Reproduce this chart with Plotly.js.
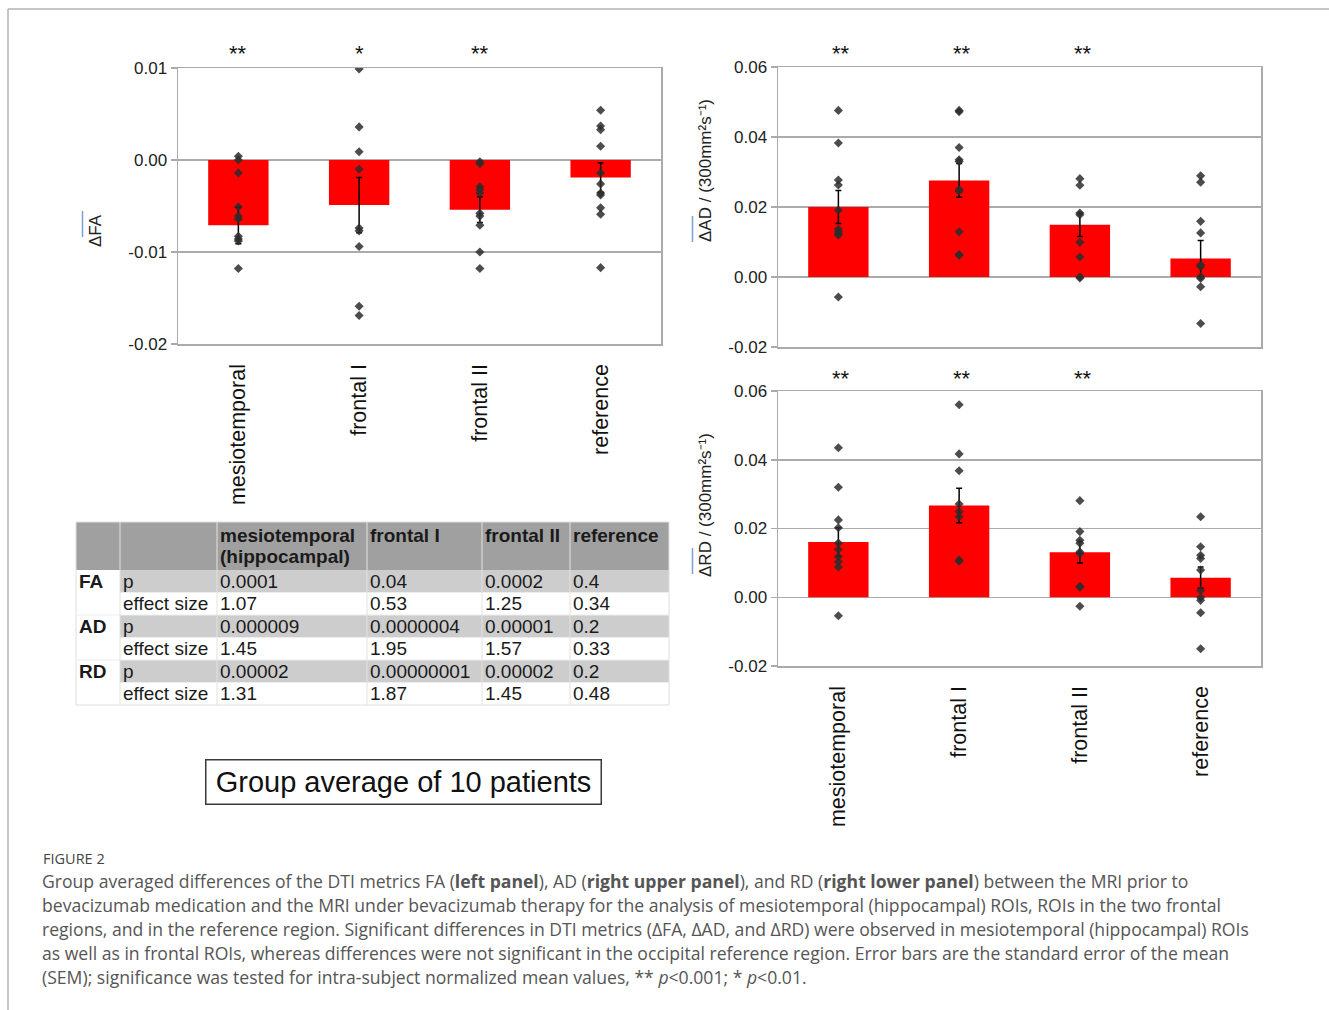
<!DOCTYPE html>
<html><head><meta charset="utf-8">
<script src="https://cdn.plot.ly/plotly-3.0.1.min.js"></script>
<style>html,body{margin:0;padding:0;background:#fff;} #chart{width:1329px;height:1010px;}</style>
</head><body><div id="chart"></div>
<script>
const categories = ['mesiotemporal', 'frontal I', 'frontal II', 'reference'];

// FA
const faMean = [-0.0071, -0.0049, -0.0054, -0.0019];
const faSem = [0.0020, 0.0030, 0.0014, 0.0016];
const faMesio = [0.0004, 0.0000, -0.0014, -0.0051, -0.0061, -0.0064, -0.0083, -0.0086, -0.0088, -0.0118];
const faFrontalI = [0.0099, 0.0036, 0.0009, -0.0010, -0.0074, -0.0077, -0.0094, -0.0159, -0.0169];
const faFrontalII = [-0.0002, -0.0004, -0.0029, -0.0032, -0.0036, -0.0058, -0.0061, -0.0071, -0.0100, -0.0118];
const faReference = [0.0054, 0.0037, 0.0033, 0.0015, -0.0014, -0.0026, -0.0036, -0.0038, -0.0052, -0.0059, -0.0117];
const faStars = ['**', '*', '**', ''];
const faTickVals = [-0.02, -0.01, 0.00, 0.01];
const faTickText = ['-0.02', '-0.01', '0.00', '0.01'];

// AD
const adMean = [0.0200, 0.0276, 0.0149, 0.0053];
const adSem = [0.0047, 0.0048, 0.0033, 0.0051];
const adMesio = [0.0476, 0.0383, 0.0277, 0.0263, 0.0191, 0.0137, 0.0130, 0.0124, 0.0120, -0.0057];
const adFrontalI = [0.0476, 0.0472, 0.0370, 0.0335, 0.0330, 0.0250, 0.0245, 0.0129, 0.0064, 0.0062];
const adFrontalII = [0.0281, 0.0262, 0.0183, 0.0178, 0.0099, 0.0057, 0.0000, -0.0003];
const adReference = [0.0289, 0.0271, 0.0159, 0.0126, 0.0035, 0.0030, 0.0000, -0.0004, -0.0028, -0.0133];
const adStars = ['**', '**', '**', ''];

// RD
const rdMean = [0.0161, 0.0267, 0.0131, 0.0057];
const rdSem = [0.0041, 0.0050, 0.0031, 0.0031];
const rdMesio = [0.0435, 0.0320, 0.0225, 0.0202, 0.0158, 0.0139, 0.0118, 0.0103, 0.0088, -0.0054];
const rdFrontalI = [0.0560, 0.0417, 0.0368, 0.0271, 0.0249, 0.0234, 0.0108, 0.0105];
const rdFrontalII = [0.0281, 0.0191, 0.0166, 0.0157, 0.0132, 0.0127, 0.0032, 0.0029, -0.0026];
const rdReference = [0.0234, 0.0147, 0.0122, 0.0113, 0.0079, 0.0020, -0.0001, -0.0009, -0.0045, -0.0150];
const rdStars = ['**', '**', '**', ''];

const adTickVals = [-0.02, 0.00, 0.02, 0.04, 0.06];
const adTickText = ['-0.02', '0.00', '0.02', '0.04', '0.06'];

// Table
const tableHeader = ['', '', 'mesiotemporal<br>(hippocampal)', 'frontal I', 'frontal II', 'reference'];
const tableMetrics = ['FA', '', 'AD', '', 'RD', ''];
const tableStats = ['p', 'effect size', 'p', 'effect size', 'p', 'effect size'];
const tableMesio = ['0.0001', '1.07', '0.000009', '1.45', '0.00002', '1.31'];
const tableFrontalI = ['0.04', '0.53', '0.0000004', '1.95', '0.00000001', '1.87'];
const tableFrontalII = ['0.0002', '1.25', '0.00001', '1.57', '0.00002', '1.45'];
const tableReference = ['0.4', '0.34', '0.2', '0.33', '0.2', '0.48'];

const boxText = 'Group average of 10 patients';
const figureLabel = 'FIGURE 2';
const captionLines = [
  'Group averaged differences of the DTI metrics FA (<b>left panel</b>), AD (<b>right upper panel</b>), and RD (<b>right lower panel</b>) between the MRI prior to',
  'bevacizumab medication and the MRI under bevacizumab therapy for the analysis of mesiotemporal (hippocampal) ROIs, ROIs in the two frontal',
  'regions, and in the reference region. Significant differences in DTI metrics (\u0394FA, \u0394AD, and \u0394RD) were observed in mesiotemporal (hippocampal) ROIs',
  'as well as in frontal ROIs, whereas differences were not significant in the occipital reference region. Error bars are the standard error of the mean',
  '(SEM); significance was tested for intra-subject normalized mean values, ** <i>p</i>&lt;0.001; * <i>p</i>&lt;0.01.'
];

const W = 1329, H = 1010;
const px = x => x / W;
const py = y => 1 - y / H;
const FONT = 'Liberation Sans, Arial, sans-serif';
const GRID = '#ababab';

function pointsTrace(groups, xa, ya) {
  const xs = [], ys = [];
  groups.forEach((g, i) => g.forEach(v => { xs.push(categories[i]); ys.push(v); }));
  return {type: 'scatter', mode: 'markers', x: xs, y: ys, xaxis: xa, yaxis: ya,
    marker: {symbol: 'diamond', size: 7, color: 'rgba(45,45,45,0.85)'}, hoverinfo: 'skip', showlegend: false};
}
function barTrace(mean, sem, xa, ya) {
  return {type: 'bar', x: categories, y: mean, xaxis: xa, yaxis: ya, width: 0.5,
    marker: {color: '#ff0000', line: {width: 0}},
    error_y: {type: 'data', array: sem, visible: true, color: '#000', thickness: 1.5, width: 3},
    showlegend: false};
}

const data = [
  barTrace(faMean, faSem, 'x', 'y'),
  pointsTrace([faMesio, faFrontalI, faFrontalII, faReference], 'x', 'y'),
  barTrace(adMean, adSem, 'x2', 'y2'),
  pointsTrace([adMesio, adFrontalI, adFrontalII, adReference], 'x2', 'y2'),
  barTrace(rdMean, rdSem, 'x3', 'y3'),
  pointsTrace([rdMesio, rdFrontalI, rdFrontalII, rdReference], 'x3', 'y3')
];

function xAxis(domain, anchor, showLabels) {
  return {domain: domain, anchor: anchor, type: 'category', range: [-0.5, 3.5],
    showticklabels: showLabels, tickangle: -90, ticks: '', ticklabelstandoff: 10,
    tickfont: {family: FONT, size: 21.5, color: '#111'},
    showline: true, mirror: true, linecolor: GRID, linewidth: 1.5, showgrid: false, zeroline: false, fixedrange: true};
}
function yAxis(domain, anchor, range, vals, text) {
  return {domain: domain, anchor: anchor, range: range, tickmode: 'array', tickvals: vals, ticktext: text,
    showline: true, mirror: true, linecolor: GRID, linewidth: 1.5,
    showgrid: true, gridcolor: GRID, gridwidth: 1.5, zeroline: false,
    ticks: 'outside', ticklen: 6, tickcolor: GRID, tickwidth: 1.5,
    tickfont: {family: FONT, size: 17, color: '#222'}, fixedrange: true};
}

const annotations = [];
const shapes = [];
function stars(list, xref, y, shift) {
  list.forEach((s, i) => { if (s) annotations.push({xref: xref, yref: 'paper', x: categories[i], y: py(y), xshift: shift,
    text: s, showarrow: false, font: {family: FONT, size: 22, color: '#111'}, xanchor: 'center', yanchor: 'middle'}); });
}
stars(faStars, 'x', 53, 0);
stars(adStars, 'x2', 53, 3);
stars(rdStars, 'x3', 378, 3);

function vtitle(text, x, y) {
  annotations.push({xref: 'paper', yref: 'paper', x: px(x), y: py(y), text: text, textangle: -90, showarrow: false,
    font: {family: FONT, size: 17, color: '#222'}, xanchor: 'center', yanchor: 'middle'});
}
vtitle('\u0394FA', 96, 230);
vtitle('\u0394AD / (300mm\u00b2s\u207b\u00b9)', 705, 171);
vtitle('\u0394RD / (300mm\u00b2s\u207b\u00b9)', 705, 505);

// ---- table built from the arrays ----
const colX = [76, 120, 217, 367, 482, 570, 669];
const headTop = 522, headBottom = 570, rowH = 22.5;
const tableCols = [tableMetrics, tableStats, tableMesio, tableFrontalI, tableFrontalII, tableReference];
const nRows = tableStats.length;
const tableBottom = headBottom + nRows * rowH;
function rect(x0, y0, x1, y1, fill, line) {
  shapes.push({type: 'rect', xref: 'paper', yref: 'paper', x0: px(x0), x1: px(x1), y0: py(y1), y1: py(y0),
    fillcolor: fill, line: line || {width: 0}, layer: 'below'});
}
function hline(x0, x1, y, color) {
  shapes.push({type: 'line', xref: 'paper', yref: 'paper', x0: px(x0), x1: px(x1), y0: py(y), y1: py(y), line: {color: color, width: 1}});
}
function vline(x, y0, y1, color) {
  shapes.push({type: 'line', xref: 'paper', yref: 'paper', x0: px(x), x1: px(x), y0: py(y0), y1: py(y1), line: {color: color, width: 1}});
}
rect(colX[0], headTop, colX[6], headBottom, '#a0a0a0');
for (let r = 0; r < nRows; r++) {
  const y0 = headBottom + r * rowH;
  if (tableStats[r] === 'p') rect(colX[1], y0, colX[6], y0 + rowH, '#cdcdcd');
}
for (let r = 1; r < nRows; r++) {
  const y = headBottom + r * rowH;
  hline(tableMetrics[r] ? colX[0] : colX[1], colX[6], y, '#ededed');
}
for (let c = 1; c < colX.length - 1; c++) vline(colX[c], headTop, tableBottom, '#e2e2e2');
rect(colX[0], headTop, colX[6], tableBottom, 'rgba(0,0,0,0)', {color: '#dedede', width: 1});

function cellText(text, x, y, bold) {
  annotations.push({xref: 'paper', yref: 'paper', x: px(x), y: py(y), text: bold ? '<b>' + text + '</b>' : text,
    showarrow: false, font: {family: FONT, size: 19, color: '#1a1a1a'}, xanchor: 'left', yanchor: 'middle', align: 'left'});
}
tableHeader.forEach((h, c) => {
  if (!h) return;
  h.split('<br>').forEach((line, k) => cellText(line, colX[c] + 1, headTop + 13 + 21 * k, true));
});
tableCols.forEach((col, c) => col.forEach((v, r) => {
  if (v) cellText(v, colX[c] + 1, headBottom + r * rowH + rowH / 2, c === 0);
}));

annotations.push({xref: 'paper', yref: 'paper', x: px(403.5), y: py(781.5), text: boxText, showarrow: false,
  font: {family: FONT, size: 29, color: '#111'}, bordercolor: '#3a3a3a', borderwidth: 1.5, borderpad: 0,
  width: 394, height: 43, align: 'center', xanchor: 'center', yanchor: 'middle'});

annotations.push({xref: 'paper', yref: 'paper', x: px(41), y: py(858), text: figureLabel, showarrow: false,
  font: {family: 'Open Sans, sans-serif', size: 14.5, color: '#444'}, xanchor: 'left', yanchor: 'middle'});
captionLines.forEach((t, i) => annotations.push({xref: 'paper', yref: 'paper', x: px(40), y: py(881 + 24 * i), text: t,
  showarrow: false, font: {family: 'Open Sans, sans-serif', size: 17.6, color: '#555'}, xanchor: 'left', yanchor: 'middle', align: 'left'}));

shapes.push(
  {type: 'line', xref: 'paper', yref: 'paper', x0: px(8), x1: px(1329), y0: py(9), y1: py(9), line: {color: '#b3b3b3', width: 1.5}},
  {type: 'line', xref: 'paper', yref: 'paper', x0: px(8), x1: px(8), y0: py(9), y1: py(1010), line: {color: '#b3b3b3', width: 1.5}},
  {type: 'line', xref: 'paper', yref: 'paper', x0: px(82.5), x1: px(82.5), y0: py(211), y1: py(237), line: {color: '#7c9fd6', width: 1.5}},
  {type: 'line', xref: 'paper', yref: 'paper', x0: px(692.5), x1: px(692.5), y0: py(216), y1: py(242), line: {color: '#7c9fd6', width: 1.5}},
  {type: 'line', xref: 'paper', yref: 'paper', x0: px(692.5), x1: px(692.5), y0: py(548), y1: py(574), line: {color: '#7c9fd6', width: 1.5}}
);

const layout = {
  width: W, height: H, margin: {l: 0, r: 0, t: 0, b: 0},
  paper_bgcolor: '#fff', plot_bgcolor: '#fff', showlegend: false, bargap: 0.5,
  font: {family: FONT},
  xaxis: xAxis([px(178), px(661)], 'y', true),
  yaxis: yAxis([py(344), py(68)], 'x', [-0.02, 0.01], faTickVals, faTickText),
  xaxis2: xAxis([px(778), px(1261)], 'y2', false),
  yaxis2: yAxis([py(347), py(67)], 'x2', [-0.02, 0.06], adTickVals, adTickText),
  xaxis3: xAxis([px(778), px(1261)], 'y3', true),
  yaxis3: yAxis([py(666), py(391)], 'x3', [-0.02, 0.06], adTickVals, adTickText),
  annotations: annotations, shapes: shapes
};

Plotly.newPlot('chart', data, layout, {staticPlot: true, displayModeBar: false});
</script></body></html>
